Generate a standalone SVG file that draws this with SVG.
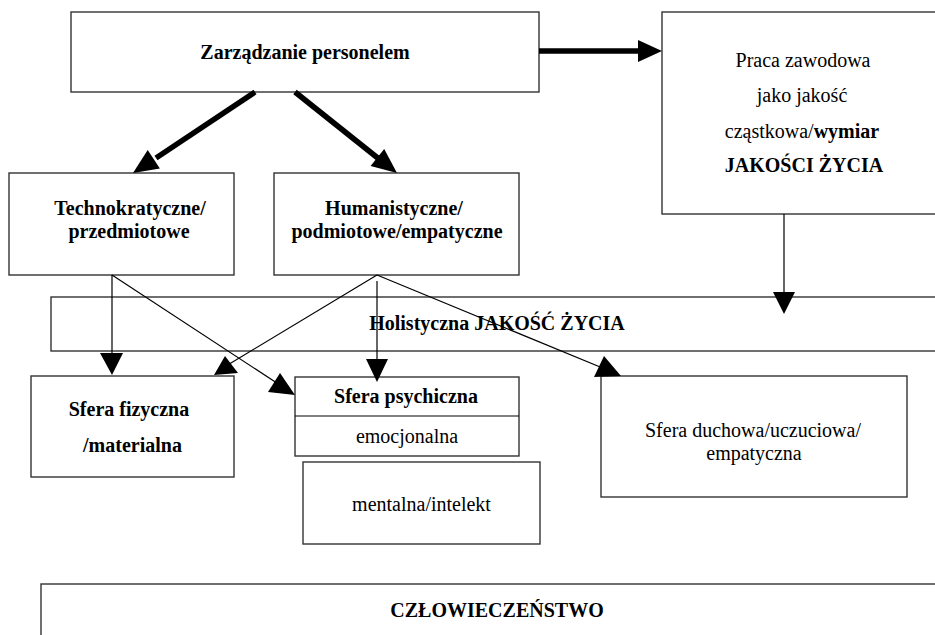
<svg xmlns="http://www.w3.org/2000/svg" width="935" height="635" viewBox="0 0 935 635">
<style>
.box{fill:#fff;stroke:#333;stroke-width:1.4}
.t{font-family:"Liberation Serif","Times New Roman",Times,serif;font-size:20px;fill:#000;text-anchor:middle}
.b{font-weight:bold}
.thin{stroke:#000;stroke-width:1.2;fill:none}
.thick{stroke:#000;stroke-width:5.5;fill:none}
.head{fill:#000;stroke:none}
</style>
<rect width="935" height="635" fill="#fff"/>
<g id="node-holistyczna">
<rect class="box" x="51" y="297" width="900" height="54"/>
<text class="t b" x="497" y="330">Holistyczna JAKOŚĆ ŻYCIA</text>
</g>
<g id="node-zarzadzanie">
<rect class="box" x="71" y="12" width="468" height="80"/>
<text class="t b" x="305" y="59">Zarządzanie personelem</text>
</g>
<g id="node-praca">
<rect class="box" x="662" y="12" width="290" height="202"/>
<text class="t" x="803" y="67">Praca zawodowa</text>
<text class="t" x="802" y="102">jako jakość</text>
<text class="t" x="802" y="138">cząstkowa/<tspan class="b">wymiar</tspan></text>
<text class="t b" x="804" y="172">JAKOŚCI ŻYCIA</text>
</g>
<g id="node-technokratyczne">
<rect class="box" x="9" y="173" width="225" height="102"/>
<text class="t b" x="130" y="215">Technokratyczne/</text>
<text class="t b" x="129" y="238">przedmiotowe</text>
</g>
<g id="node-humanistyczne">
<rect class="box" x="274" y="173" width="245" height="102"/>
<text class="t b" x="394" y="215">Humanistyczne/</text>
<text class="t b" x="397" y="238">podmiotowe/empatyczne</text>
</g>
<g id="node-fizyczna">
<rect class="box" x="31" y="376" width="203" height="101"/>
<text class="t b" x="129" y="416">Sfera fizyczna</text>
<text class="t b" x="132.5" y="452">/materialna</text>
</g>
<g id="node-psychiczna">
<rect class="box" x="295" y="377" width="224" height="79"/>
<line x1="295" y1="416" x2="519" y2="416" stroke="#000" stroke-width="1.2"/>
<text class="t b" x="406" y="403">Sfera psychiczna</text>
<text class="t" x="407" y="443">emocjonalna</text>
</g>
<g id="node-mentalna">
<rect class="box" x="303" y="462" width="237" height="82"/>
<text class="t" x="421.5" y="511">mentalna/intelekt</text>
</g>
<g id="node-duchowa">
<rect class="box" x="601" y="376" width="306" height="121"/>
<text class="t" x="753" y="437">Sfera duchowa/uczuciowa/</text>
<text class="t" x="754" y="460">empatyczna</text>
</g>
<g id="node-czlowieczenstwo">
<rect class="box" x="41" y="584" width="910" height="70"/>
<text class="t b" x="497" y="617">CZŁOWIECZEŃSTWO</text>
</g>
<g id="connectors">
<line class="thick" x1="539" y1="51" x2="640" y2="51"/>
<polygon class="head" points="638,40 662,51 638,62"/>
<line class="thick" x1="255" y1="92" x2="156" y2="158"/>
<polygon class="head" points="133,173 147.7,150 159.9,168.4"/>
<line class="thick" x1="295" y1="92" x2="379" y2="159"/>
<polygon class="head" points="397,173 370.6,166.1 384.2,148.9"/>
<line class="thin" x1="784" y1="214" x2="784" y2="293"/>
<polygon class="head" points="773,292 795,292 784,314"/>
<line class="thin" x1="112" y1="275" x2="112" y2="354"/>
<polygon class="head" points="100,353 123,353 112,375"/>
<line class="thin" x1="377" y1="281" x2="377" y2="360"/>
<polygon class="head" points="366,359 388,359 377,382"/>
<line class="thin" x1="112" y1="275" x2="286" y2="389"/>
<polygon class="head" points="280,373 268,392 295,395"/>
<line class="thin" x1="377" y1="275" x2="226" y2="366"/>
<polygon class="head" points="225,356 214,375 238,373"/>
<line class="thin" x1="377" y1="275" x2="605" y2="369"/>
<polygon class="head" points="604,356 594,377 621,376"/>
</g>
</svg>
